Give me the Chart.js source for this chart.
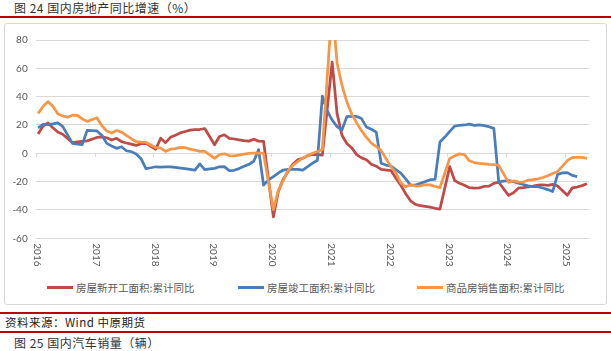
<!DOCTYPE html>
<html>
<head>
<meta charset="utf-8">
<script src="https://cdn.jsdelivr.net/npm/chart.js@4.4.1/dist/chart.umd.min.js"></script>
<style>
  body { margin: 0; width: 611px; height: 351px; background: #fff; position: relative; overflow: hidden;
         font-family: "Noto Sans CJK SC", sans-serif; }
  .cap { position: absolute; left: 14px; font-size: 12px; line-height: 14px; color: #333; white-space: nowrap; letter-spacing: 0.5px; }
  .rule { position: absolute; left: 0; width: 611px; height: 2px; background: #c00000; }
  .box { position: absolute; left: 4px; top: 23px; width: 601px; height: 280px; border: 1px solid #d9d9d9; border-radius: 3px; }
  #wrap { position: absolute; left: 0; top: 0; width: 611px; height: 275px; }
  #legend .item { position: absolute; top: 280px; height: 14px; display: flex; align-items: center;
                  font-size: 10.5px; color: #595959; white-space: nowrap; }
  #legend .item i { display: inline-block; width: 26px; height: 3px; margin-right: 3px; }
  #legend .item:nth-child(1) { left: 47px; }
  #legend .item:nth-child(2) { left: 238px; }
  #legend .item:nth-child(3) { left: 417px; }
  .src { position: absolute; left: 5px; top: 315px; font-size: 11.5px; line-height: 14px; color: #222; letter-spacing: 0.5px; }
</style>
</head>
<body>
<div class="cap" style="top:1px">图 24 国内房地产同比增速（%）</div>
<div class="rule" style="top:16px"></div>
<div class="box"></div>
<div id="wrap"><canvas id="myChart" width="611" height="275"></canvas></div>
<div id="legend"></div>
<div class="rule" style="top:312px"></div>
<div class="src">资料来源：Wind 中原期货</div>
<div class="rule" style="top:331px"></div>
<div class="cap" style="top:336px">图 25 国内汽车销量（辆）</div>

<script>
// year labels on the x axis
const years = [2016, 2017, 2018, 2019, 2020, 2021, 2022, 2023, 2024, 2025];
// monthly data runs from 2016-02 to 2025-06
const startMonth = 2;
const endMonth = 6;
const yTicks = [-60, -40, -20, 0, 20, 40, 60, 80];

const seriesNames = ['房屋新开工面积:累计同比', '房屋竣工面积:累计同比', '商品房销售面积:累计同比'];
const seriesColors = ['#be4b48', '#4a7ebb', '#f79646'];

// 房屋新开工面积:累计同比 (January has no separate release)
const newStarts = [
  13.7, 19.2, 21.4, 18.0, 15.0, 13.5, 10.5, 7.5, 8.0, 8.5, 8.8,            // 2016 Feb-Dec
  null, 11.2, 11.6, 11.0, 9.4, 10.6, 8.3, 7.3, 6.5, 5.6, 6.8, 7.0,         // 2017
  null, 2.9, 10.6, 7.5, 11.3, 12.8, 14.4, 15.4, 16.4, 16.8, 16.8, 17.5,    // 2018
  null, 6.0, 11.9, 13.1, 10.5, 10.1, 9.5, 8.9, 8.6, 10.0, 8.6, 8.5,        // 2019
  null, -44.9, -27.2, -18.4, -12.8, -7.6, -4.5, -3.6, -1.6, -0.7, -1.0, -1.2,  // 2020
  null, 64.3, 28.2, 12.8, 6.9, 3.8, -0.9, -3.2, -4.5, -7.7, -9.1, -11.4,   // 2021
  null, -12.2, -17.5, -22.5, -28.5, -33.5, -36.0, -37.0, -37.5, -38.0, -38.8, -39.4, // 2022
  null, -9.4, -19.2, -21.2, -22.6, -24.3, -24.5, -24.4, -23.4, -23.2, -21.2, -20.4,  // 2023
  null, -29.7, -27.8, -24.6, -24.2, -23.7, -23.2, -22.5, -22.2, -22.6, -22.0, -23.0, // 2024
  null, -29.6, -24.4, -23.8, -22.8, -21.5                                  // 2025 Jan-Jun
];

// 房屋竣工面积:累计同比
const completions = [
  18.0, 20.5, 20.3, 20.8, 21.5, 19.0, 13.0, 7.0, 6.5, 6.2, 16.2,
  16.0, 15.8, 12.8, 7.0, 5.2, 3.5, 4.6, 1.8, 1.2, -0.5, -3.8, -10.8,
  -10.2, -9.5, -9.8, -9.6, -9.6, -10.0, -10.4, -10.8, -11.3, -11.8, -7.5, -11.5,
  -11.0, -10.6, -9.5, -9.4, -12.2, -12.0, -10.8, -9.2, -7.8, -5.6, 2.6, -22.4,
  -18.8, -16.4, -14.0, -11.8, -11.3, -11.3, -11.3, -11.8, -9.4, -7.0, -4.9, 40.4,
  30.0, 23.5, 18.8, 16.4, 25.9, 26.0, 26.0, 24.5, 18.5, 17.0, 15.0, -7.0,
  -8.3, -9.0, -11.5, -14.0, -18.0, -22.4, -22.4, -21.2, -20.0, -18.6, -18.4, 8.0,
  11.5, 15.5, 19.2, 19.8, 20.0, 20.6, 19.7, 20.0, 19.6, 18.8, 17.6, -20.2,
  -19.6, -19.3, -20.0, -21.0, -22.0, -23.0, -23.5, -23.6, -24.5, -25.6, -27.0, -15.0,
  -13.8, -13.6, -15.6, -16.4, null, null
];

// 商品房销售面积:累计同比
const sales = [
  28.2, 33.1, 36.5, 33.2, 27.9, 26.4, 25.5, 26.9, 26.8, 24.3, 22.5,
  null, 25.1, 19.5, 15.7, 14.3, 16.1, 15.0, 12.7, 10.3, 8.2, 7.9, 7.7,
  null, 4.1, 3.6, 1.3, 2.9, 3.3, 4.2, 4.0, 2.9, 2.2, 1.4, 1.3,
  null, -3.6, -0.9, -0.3, -1.6, -1.8, -1.3, -0.6, -0.1, 0.1, 0.2, -0.1,
  null, -39.9, -26.3, -19.3, -12.3, -8.4, -5.8, -3.3, -1.8, 0.0, 1.3, 2.6,
  null, 104.9, 63.8, 48.1, 36.3, 27.7, 21.5, 15.9, 11.3, 7.2, 4.8, 1.9,
  null, -9.6, -13.8, -20.9, -23.6, -22.2, -23.1, -23.0, -22.2, -22.3, -23.3, -24.3,
  null, -3.6, -1.8, -0.4, -0.9, -5.3, -6.5, -7.1, -7.5, -7.8, -8.0, -8.5,
  null, -20.5, -19.4, -20.2, -20.3, -19.0, -18.6, -18.0, -17.1, -15.8, -14.3, -12.9,
  null, -5.1, -3.0, -2.8, -2.9, -3.5
];

let months = [];
years.forEach(y => {
  for (let m = 1; m <= 12; m++) {
    if (y === years[0] && m < startMonth) continue;
    if (y === years[years.length - 1] && m > endMonth) continue;
    months.push(y + '-' + String(m).padStart(2, '0'));
  }
});

// year ticks hang off the zero line, year labels run top-to-bottom under the plot
const yearAxis = {
  id: 'yearAxis',
  beforeDatasetsDraw(chart) {
    let ctx = chart.ctx, xs = chart.scales.x, ys = chart.scales.y;
    let slot = xs.getPixelForValue(1) - xs.getPixelForValue(0);
    let y0 = Math.round(ys.getPixelForValue(0));
    ctx.save();
    ctx.strokeStyle = '#d9d9d9';
    ctx.lineWidth = 1;
    ctx.beginPath();
    years.forEach(y => {
      let i = months.indexOf(y + '-' + String(startMonth).padStart(2, '0'));
      let px = Math.round(xs.getPixelForValue(i) - slot / 2) + 0.5;
      ctx.moveTo(px, y0);
      ctx.lineTo(px, y0 + 4);
    });
    ctx.stroke();
    ctx.restore();
  },
  afterDraw(chart) {
    let ctx = chart.ctx, xs = chart.scales.x;
    ctx.save();
    ctx.fillStyle = '#595959';
    ctx.font = '10px Lato';
    ctx.textAlign = 'left';
    ctx.textBaseline = 'middle';
    years.forEach(y => {
      let i = months.indexOf(y + '-' + String(startMonth).padStart(2, '0'));
      ctx.save();
      ctx.translate(xs.getPixelForValue(i) - 1, chart.chartArea.bottom + 5);
      ctx.rotate(Math.PI / 2);
      ctx.fillText(String(y), 0, 0);
      ctx.restore();
    });
    ctx.restore();
  }
};

const seriesData = [newStarts, completions, sales];

let myChart = new Chart(document.getElementById('myChart'), {
  type: 'line',
  data: {
    labels: months,
    datasets: seriesNames.map((name, k) => ({
      label: name,
      data: seriesData[k],
      borderColor: seriesColors[k],
      backgroundColor: seriesColors[k],
      borderWidth: 2.75,
      pointRadius: 0,
      tension: 0,
      spanGaps: true,
      borderJoinStyle: 'round',
      order: 3 - k
    }))
  },
  options: {
    responsive: false,
    animation: false,
    devicePixelRatio: 1,
    layout: { padding: { top: 40, right: 21.6, bottom: 36.7, left: 0 } },
    plugins: { legend: { display: false }, tooltip: { enabled: false } },
    scales: {
      x: { type: 'category', offset: true, display: false },
      y: {
        min: yTicks[0],
        max: yTicks[yTicks.length - 1],
        afterBuildTicks(scale) { scale.ticks = yTicks.map(v => ({ value: v })); },
        afterFit(scale) { scale.width = 35.7; },
        grid: { color: '#d9d9d9', lineWidth: 1, drawTicks: false },
        border: { display: false },
        ticks: { color: '#595959', font: { family: 'Lato', size: 10 }, padding: 8 }
      }
    }
  },
  plugins: [yearAxis]
});

// legend drawn from the chart's own datasets
let legend = document.getElementById('legend');
myChart.data.datasets.forEach(ds => {
  let item = document.createElement('div');
  item.className = 'item';
  item.innerHTML = '<i style="background:' + ds.borderColor + '"></i>' + ds.label;
  legend.appendChild(item);
});
</script>
</body>
</html>
